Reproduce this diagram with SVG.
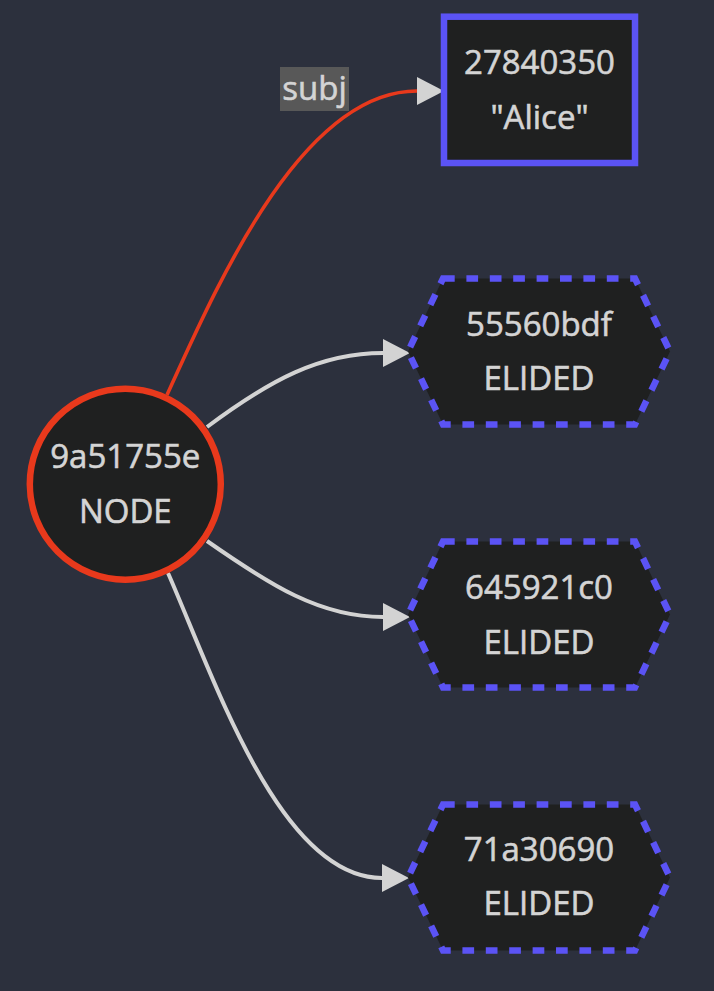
<svg xmlns="http://www.w3.org/2000/svg" width="714" height="991" viewBox="0 0 714 991">
<style>
.lbl{font-family:"Open Sans","DejaVu Sans",sans-serif;font-size:33px;fill:#d4d4d4;stroke:#d4d4d4;stroke-width:0.6;text-anchor:middle}
.node{fill:#1f2020}
.hex{fill:#1f2020;stroke:#5b53f5;stroke-width:6.5;stroke-dasharray:11.7 11.7}
.edge{fill:none;stroke:#d3d3d3;stroke-width:4}
.edge.red{stroke:#e8391c;stroke-width:3.6}
</style>
<defs>
<marker id="arr" markerUnits="userSpaceOnUse" markerWidth="27" markerHeight="28" refX="0" refY="14" orient="auto" viewBox="0 0 27 28">
<path d="M0,0 L27,14 L0,28 Z" fill="#d3d3d3"/>
</marker>
</defs>
<rect width="714" height="991" fill="#2c303d"/>
<g id="edges">
<path class="edge red" d="M167,395 C215,290 300,91 417,91" marker-end="url(#arr)"/>
<path class="edge" d="M207,427 C270,380 320,353 383,353" marker-end="url(#arr)"/>
<path class="edge" d="M207,541 C270,585 320,617 383,617" marker-end="url(#arr)"/>
<path class="edge" d="M168,573 C215,680 280,878 382,878" marker-end="url(#arr)"/>
<rect x="280" y="67" width="69" height="44" fill="#585858"/>
<text class="lbl" x="314.5" y="100">subj</text>
</g>
<g id="n9a51755e">
<circle class="node" cx="125.3" cy="484.2" r="95.5" stroke="#e8391c" stroke-width="6.5"/>
<text class="lbl" x="125.3" y="467.5">9a51755e</text>
<text class="lbl" x="125.3" y="523.3">NODE</text>
</g>
<g id="n27840350">
<rect class="node" x="444" y="16.7" width="191" height="146.3" stroke="#5b53f5" stroke-width="6.5"/>
<text class="lbl" x="539.5" y="74">27840350</text>
<text class="lbl" x="539.5" y="128.7">"Alice"</text>
</g>
<g id="n55560bdf">
<polygon class="hex" points="443,278.5 635,278.5 670,351.5 635,424.5 443,424.5 408,351.5"/>
<text class="lbl" x="539" y="336">55560bdf</text>
<text class="lbl" x="539" y="390">ELIDED</text>
</g>
<g id="n645921c0">
<polygon class="hex" points="443,541.5 635,541.5 670,614.5 635,687.5 443,687.5 408,614.5"/>
<text class="lbl" x="539" y="598.5">645921c0</text>
<text class="lbl" x="539" y="654">ELIDED</text>
</g>
<g id="n71a30690">
<polygon class="hex" points="443,804.5 635,804.5 670,877.5 635,950.5 443,950.5 408,877.5"/>
<text class="lbl" x="539" y="861">71a30690</text>
<text class="lbl" x="539" y="915">ELIDED</text>
</g>
</svg>
